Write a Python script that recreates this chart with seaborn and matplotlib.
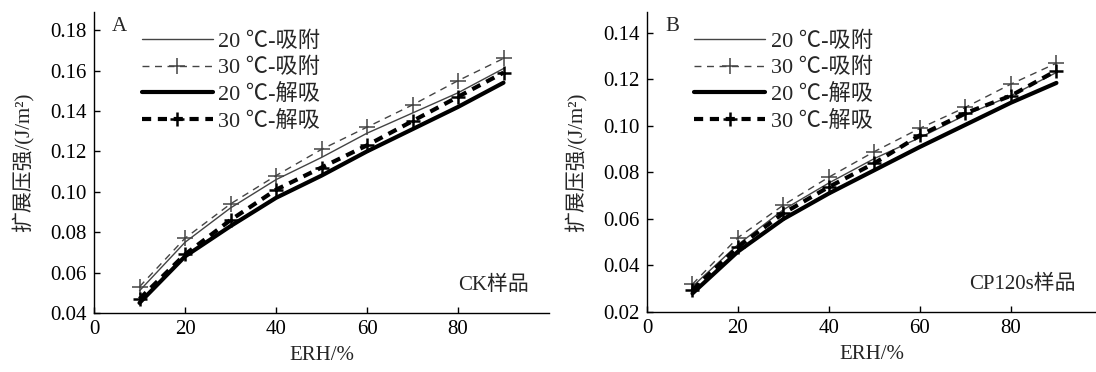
import numpy as np
import pandas as pd
import matplotlib
matplotlib.use("Agg")
import matplotlib.pyplot as plt
import seaborn as sns

sns.set_theme(style="ticks")
plt.rcParams['font.family'] = ['Liberation Serif', 'Noto Sans CJK SC', 'DejaVu Sans']

erh = [10, 20, 30, 40, 50, 60, 70, 80, 90]
series_names = ["20 ℃-吸附", "30 ℃-吸附", "20 ℃-解吸", "30 ℃-解吸"]

# Panel A (CK样品)
a_20_ads = [0.051, 0.075, 0.092, 0.106, 0.117, 0.129, 0.139, 0.149, 0.161]
a_30_ads = [0.053, 0.077, 0.094, 0.108, 0.121, 0.132, 0.143, 0.155, 0.166]
a_20_des = [0.045, 0.068, 0.083, 0.097, 0.108, 0.120, 0.131, 0.142, 0.154]
a_30_des = [0.047, 0.069, 0.086, 0.101, 0.112, 0.123, 0.135, 0.147, 0.159]

# Panel B (CP120s样品)
b_20_ads = [0.031, 0.049, 0.064, 0.0755, 0.086, 0.095, 0.1047, 0.113, 0.123]
b_30_ads = [0.032, 0.052, 0.066, 0.078, 0.089, 0.099, 0.108, 0.118, 0.127]
b_20_des = [0.028, 0.046, 0.060, 0.071, 0.081, 0.091, 0.1005, 0.110, 0.1185]
b_30_des = [0.0295, 0.048, 0.0625, 0.0738, 0.084, 0.096, 0.1055, 0.113, 0.1238]

styles = [
    dict(color="#444444", lw=1.0, ls="-", marker=None, ms=0, mew=0),
    dict(color="#444444", lw=1.0, ls=(0, (5, 4)), marker="+", ms=11, mew=1.1),
    dict(color="black", lw=3.0, ls="-", marker=None, ms=0, mew=0),
    dict(color="black", lw=3.0, ls=(0, (2.2, 1.6)), marker="+", ms=10, mew=1.8),
]

FS = 15
fig = plt.figure(figsize=(10.96, 3.72), dpi=100)
axA = fig.add_axes([94/1096, 1-313/372, 455/1096, 301/372])
axB = fig.add_axes([647/1096, 1-312/372, 449/1096, 300/372])

panels = [
    (axA, [a_20_ads, a_30_ads, a_20_des, a_30_des], "A", "CK样品", (0.04, 0.189), np.arange(0.04, 0.181, 0.02), (0, 100)),
    (axB, [b_20_ads, b_30_ads, b_20_des, b_30_des], "B", "CP120s样品", (0.02, 0.149), np.arange(0.02, 0.141, 0.02), (0, 98.7)),
]

for ax, data, letter, sample, ylim, yticks, xlim in panels:
    for name, vals, st in zip(series_names, data, styles):
        df = pd.DataFrame({"ERH": erh, "val": vals})
        kw = {}
        if st["marker"]:
            kw = dict(marker=st["marker"], markersize=st["ms"], markeredgewidth=st["mew"],
                      markeredgecolor=st["color"], markerfacecolor=st["color"])
        sns.lineplot(data=df, x="ERH", y="val", ax=ax, color=st["color"], lw=st["lw"],
                     linestyle=st["ls"], label=name, **kw)
    ax.set_xlim(*xlim)
    ax.set_ylim(*ylim)
    ax.set_xticks([0, 20, 40, 60, 80])
    ax.set_yticks(yticks)
    ax.set_yticklabels([f"{v:.2f}" for v in yticks])
    ax.tick_params(direction="in", length=4, width=1, labelsize=FS, colors="black", pad=5)
    for s in ["top", "right"]:
        ax.spines[s].set_visible(False)
    for s in ["left", "bottom"]:
        ax.spines[s].set_color("black")
        ax.spines[s].set_linewidth(1.0)
    ax.set_xlabel("ERH/%", fontsize=FS, labelpad=5)
    ax.set_ylabel("扩展压强/(J/m²)", fontsize=FS, labelpad=12)
    ax.text(0.04, 0.985, letter, transform=ax.transAxes, fontsize=FS, va="top", ha="left")
    ax.text(0.955, 0.06, sample, transform=ax.transAxes, fontsize=FS, va="bottom", ha="right")
    leg = ax.legend(loc="upper left", bbox_to_anchor=(0.085, 0.965), frameon=False, fontsize=16,
                    handlelength=3.2, handletextpad=0.25, labelspacing=0.26, borderaxespad=0)

fig.savefig("out.png", dpi=100)
